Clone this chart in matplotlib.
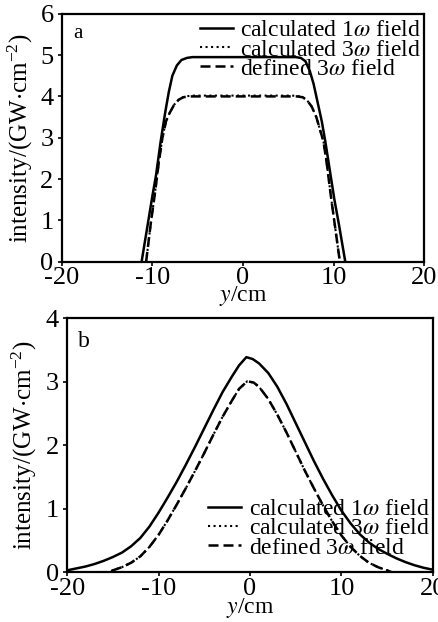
import matplotlib
matplotlib.use('Agg')
import matplotlib.pyplot as plt

plt.rcParams['font.family'] = ['Liberation Serif', 'DejaVu Serif']
plt.rcParams['mathtext.fontset'] = 'stix'

# panel a: flat-top beams
a_x_1w = [-11.2, -10.6, -10.0, -9.6, -9.1, -8.6, -8.2, -7.8, -7.3, -6.8, -6.2, -5.6,
          0.0, 5.8, 6.4, 6.9, 7.4, 7.8, 8.2, 8.7, 9.1, 9.6, 10.1, 10.6, 11.3]
a_y_1w = [0.0, 0.8, 1.6, 2.1, 2.9, 3.6, 4.1, 4.5, 4.75, 4.88, 4.93, 4.95,
          4.95, 4.95, 4.93, 4.85, 4.6, 4.3, 3.9, 3.4, 2.9, 2.2, 1.5, 0.9, 0.0]
a_x_3w = [-10.7, -10.2, -9.7, -9.3, -8.9, -8.5, -8.1, -7.6, -7.1, -6.6, -6.0, -5.4,
          0.0, 5.4, 6.0, 6.6, 7.1, 7.6, 8.1, 8.5, 8.9, 9.3, 9.7, 10.2, 10.7]
a_y_3w = [0.0, 0.9, 1.7, 2.4, 3.0, 3.4, 3.6, 3.8, 3.92, 3.98, 4.01, 4.02,
          4.02, 4.02, 4.01, 3.98, 3.9, 3.75, 3.5, 3.2, 2.9, 2.3, 1.6, 0.8, 0.0]
a_x_def = a_x_3w
a_y_def = [0.0, 0.9, 1.7, 2.4, 3.0, 3.4, 3.6, 3.8, 3.92, 3.98, 4.0, 4.0,
           4.0, 4.0, 4.0, 3.98, 3.9, 3.75, 3.5, 3.2, 2.9, 2.3, 1.6, 0.8, 0.0]

# panel b: bell-shaped beams
b_x_1w = [-20, -19, -18, -17, -16, -15, -14, -13, -12, -11, -10, -9, -8, -7, -6, -5, -4,
          -3, -2, -1.2, -0.4, 0.3, 1, 2, 3, 4, 5, 6, 7, 8, 9, 10, 11, 12, 13, 14, 15,
          16, 17, 18, 19, 20]
b_y_1w = [0.03, 0.06, 0.09, 0.13, 0.18, 0.24, 0.31, 0.41, 0.54, 0.72, 0.94, 1.18, 1.43, 1.7,
          1.98, 2.27, 2.56, 2.84, 3.08, 3.26, 3.39, 3.36, 3.29, 3.14, 2.92, 2.65, 2.35, 2.05,
          1.75, 1.47, 1.21, 0.97, 0.77, 0.6, 0.47, 0.37, 0.29, 0.22, 0.16, 0.11, 0.07, 0.04]
b_x_3w = [-20, -17, -15.5, -15, -14, -13, -12, -11, -10, -9, -8, -7, -6, -5, -4, -3, -2,
          -1.2, -0.3, 0.4, 1, 2, 3, 4, 5, 6, 7, 8, 9, 10, 11, 12, 13, 14, 15, 15.5, 17, 20]
b_y_3w = [0.0, 0.0, 0.0, 0.03, 0.08, 0.15, 0.25, 0.4, 0.59, 0.82, 1.07, 1.33, 1.6, 1.88,
          2.17, 2.45, 2.7, 2.89, 3.01, 2.99, 2.92, 2.73, 2.48, 2.2, 1.9, 1.6, 1.32, 1.05,
          0.8, 0.58, 0.4, 0.26, 0.15, 0.08, 0.03, 0.0, 0.0, 0.0]
b_x_def = b_x_3w
b_y_def = b_y_3w

labels = [r'calculated 1$\omega$ field', r'calculated 3$\omega$ field', r'defined 3$\omega$ field']
x_ticks = [-20, -10, 0, 10, 20]


def style_axes(ax, yticks, ypad):
    ax.set_xlim(-20, 20)
    ax.set_xticks(x_ticks)
    ax.set_xticklabels(['-20', '-10', '0', '10', '20'])
    ax.set_yticks(yticks)
    ax.tick_params(direction='out', length=3, width=1.2, labelsize=19, pad=1)
    ax.tick_params(axis='y', pad=3)
    for s in ax.spines.values():
        s.set_linewidth(1.6)
    ax.set_ylabel(r'intensity/(GW$\cdot$cm$^{\mathregular{-2}}$)', fontsize=18, labelpad=ypad)


def add_legend(ax, anchor):
    ax.legend(loc='upper right', bbox_to_anchor=anchor, frameon=False, fontsize=17,
              handlelength=1.4, handletextpad=0.3, labelspacing=-0.1,
              borderaxespad=0.0, borderpad=0.0)


fig = plt.figure(figsize=(4.39, 6.22), dpi=100)

ax1 = fig.add_axes([0.141, 0.579, 0.825, 0.399])
ax1.plot(a_x_1w, a_y_1w, color='black', lw=1.8, label=labels[0])
ax1.plot(a_x_3w, a_y_3w, color='black', lw=1.5, ls=':', label=labels[1])
ax1.plot(a_x_def, a_y_def, color='black', lw=1.8, ls=(0, (4, 2)), label=labels[2])
ax1.set_ylim(0, 6)
style_axes(ax1, [0, 1, 2, 3, 4, 5, 6], 3.5)
ax1.set_xlabel(r'$y$/cm', fontsize=17, labelpad=-4)
ax1.text(0.03, 0.96, 'a', transform=ax1.transAxes, fontsize=15, va='top')
add_legend(ax1, (0.99, 0.975))

ax2 = fig.add_axes([0.153, 0.080, 0.833, 0.408])
ax2.plot(b_x_1w, b_y_1w, color='black', lw=1.8, label=labels[0])
ax2.plot(b_x_3w, b_y_3w, color='black', lw=1.5, ls=':', label=labels[1])
ax2.plot(b_x_def, b_y_def, color='black', lw=1.8, ls=(0, (4, 2)), label=labels[2])
ax2.set_ylim(0, 4)
style_axes(ax2, [0, 1, 2, 3, 4], 4.5)
ax2.set_xlabel(r'$y$/cm', fontsize=17, labelpad=-3)
ax2.text(0.03, 0.95, 'b', transform=ax2.transAxes, fontsize=17, va='top')
add_legend(ax2, (0.99, 0.29))

fig.savefig('out.png', dpi=100)
